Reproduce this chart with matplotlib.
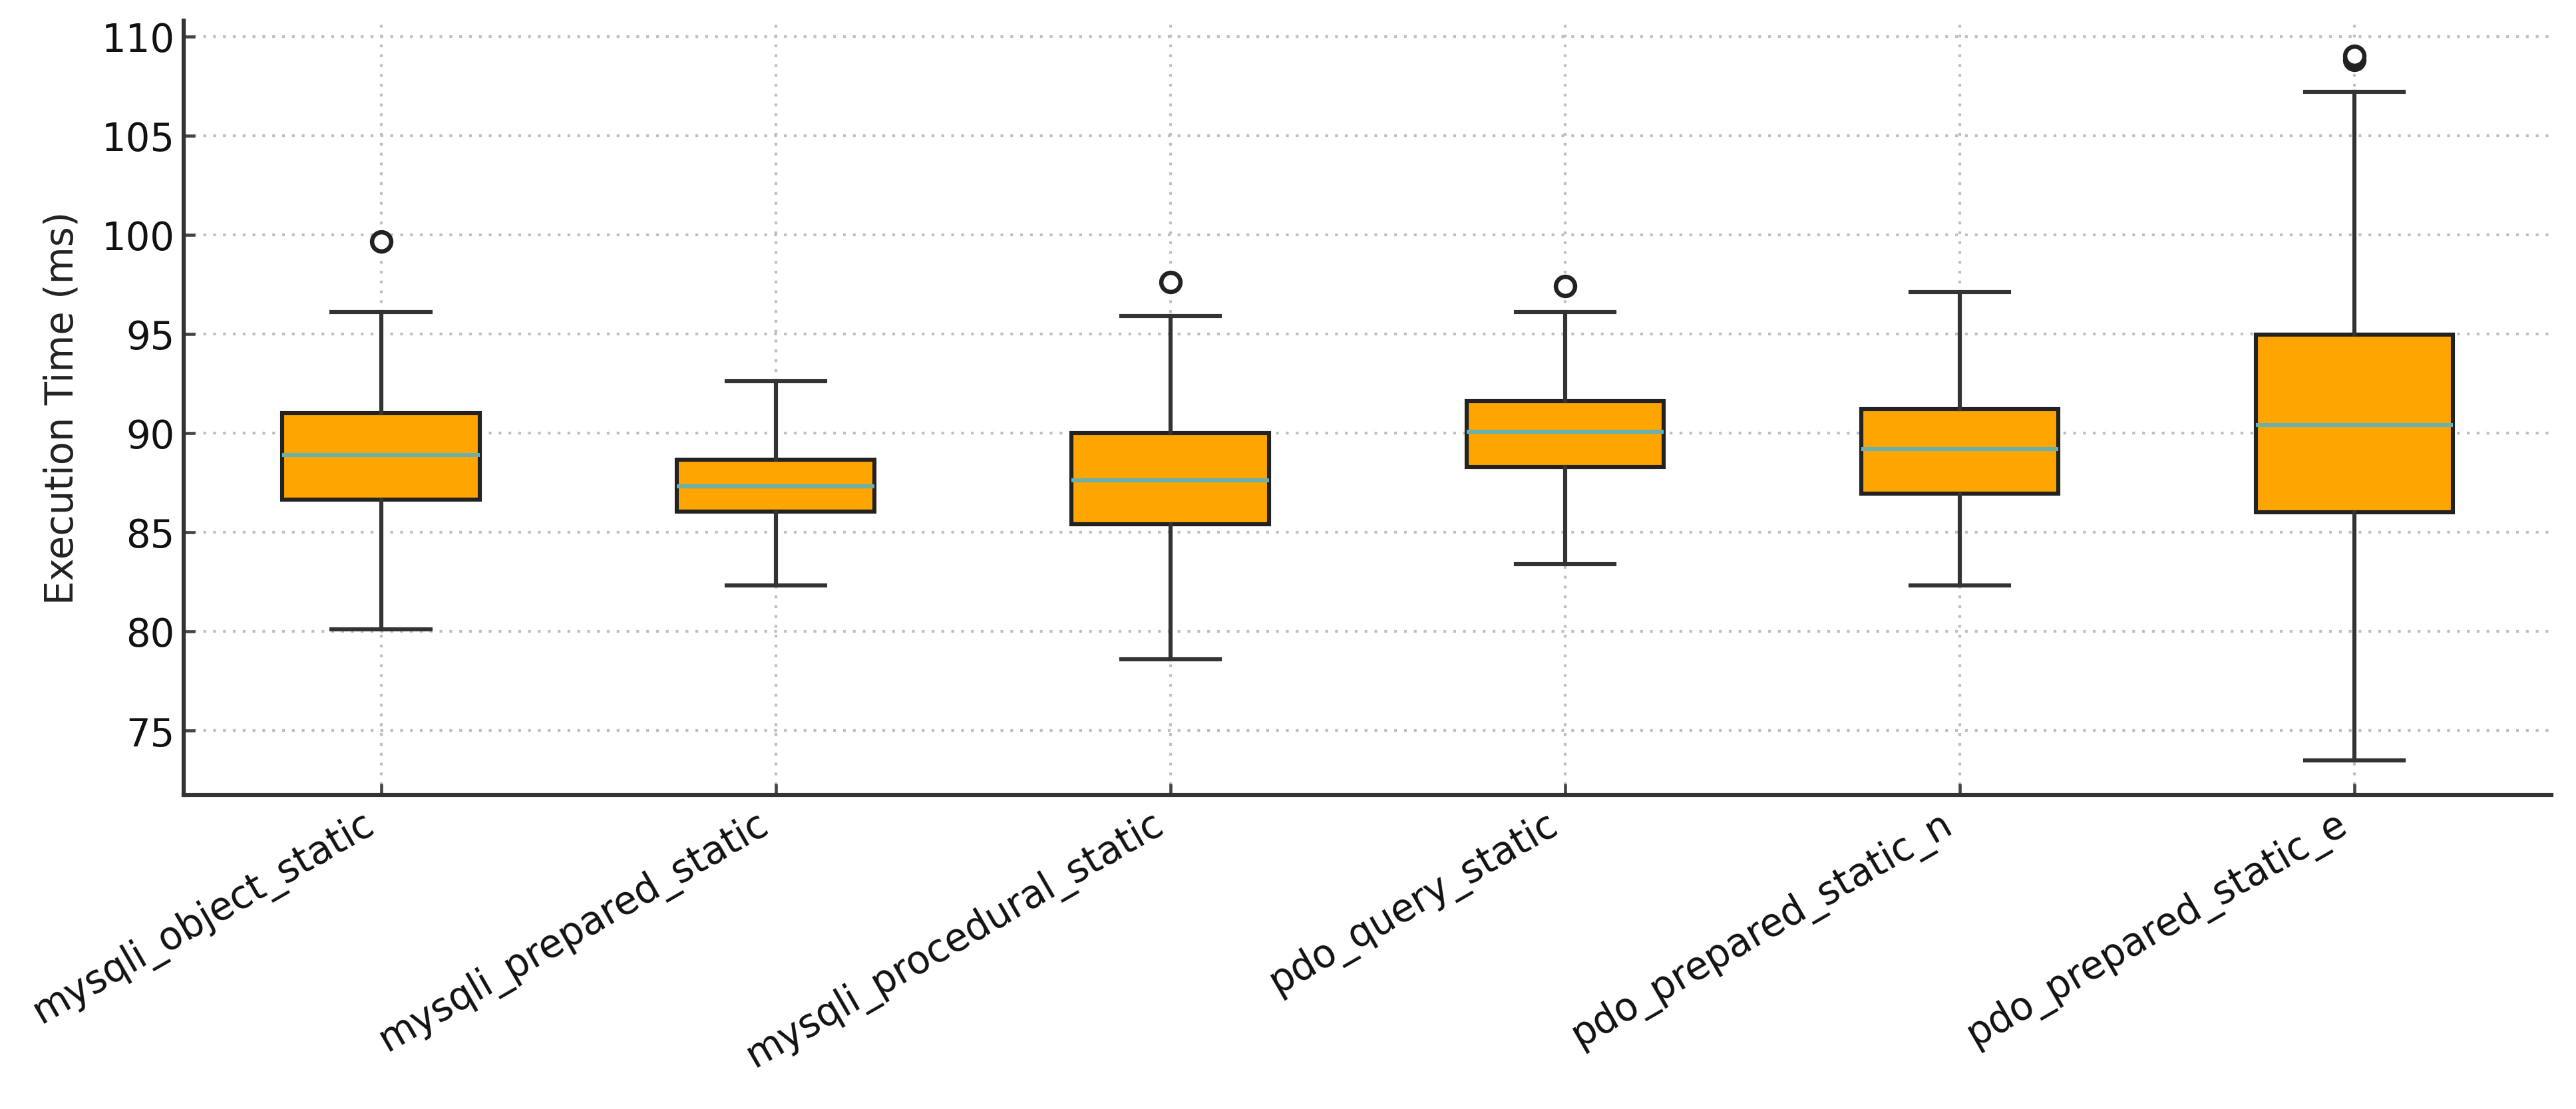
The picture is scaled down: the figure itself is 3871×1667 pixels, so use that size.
import matplotlib
matplotlib.use("Agg")
import matplotlib.pyplot as plt

# values
labels = ["mysqli_object_static", "mysqli_prepared_static", "mysqli_procedural_static",
          "pdo_query_static", "pdo_prepared_static_n", "pdo_prepared_static_e"]
whisLow = [80.1, 82.3, 78.6, 83.4, 82.3, 73.5]
q1 = [86.65, 86.05, 85.4, 88.3, 86.95, 86.0]
medians = [88.9, 87.3, 87.6, 90.05, 89.2, 90.4]
q3 = [91.0, 88.65, 90.0, 91.6, 91.2, 94.95]
whisHigh = [96.1, 92.6, 95.9, 96.1, 97.1, 107.2]
fliers = [[99.65], [], [97.6], [97.4], [], [108.8, 109.0]]

stats = []
for i in range(len(labels)):
    stats.append({"label": labels[i], "whislo": whisLow[i], "q1": q1[i], "med": medians[i],
                  "q3": q3[i], "whishi": whisHigh[i], "fliers": fliers[i]})

plt.rcParams["font.family"] = "DejaVu Sans"
fig = plt.figure(figsize=(14, 6.031), dpi=276.57)
ax = fig.add_axes([0.0713, 0.283, 0.919, 0.698])

ax.bxp(stats, patch_artist=True,
       boxprops=dict(facecolor="#FFA500", edgecolor="#222222", linewidth=1.6),
       medianprops=dict(color="#6AB0AC", linewidth=1.6),
       whiskerprops=dict(color="#333333", linewidth=1.6),
       capprops=dict(color="#333333", linewidth=1.6),
       flierprops=dict(marker="o", markerfacecolor="white", markeredgecolor="#222222",
                       markersize=7.5, markeredgewidth=1.7))

ax.set_ylim(71.75, 110.8)
ax.set_yticks([75, 80, 85, 90, 95, 100, 105, 110])
ax.set_ylabel("Execution Time (ms)", fontsize=15, color="#222222", labelpad=8)
ax.set_xticks(range(1, len(labels) + 1))
ax.set_xticklabels(labels, rotation=30, ha="right", fontsize=15, color="#111111")
ax.tick_params(axis="y", labelsize=15, labelcolor="#111111")
ax.tick_params(direction="in", length=4.5, width=1.2, color="#444444")

ax.grid(True, linestyle=(0, (1, 2.5)), color="#c0c0c0", linewidth=1.1)
ax.set_axisbelow(True)
ax.spines["top"].set_visible(False)
ax.spines["right"].set_visible(False)
ax.spines["left"].set_linewidth(1.6)
ax.spines["bottom"].set_linewidth(1.6)
ax.spines["left"].set_color("#333333")
ax.spines["bottom"].set_color("#333333")

fig.savefig("out.png", dpi=276.57)
